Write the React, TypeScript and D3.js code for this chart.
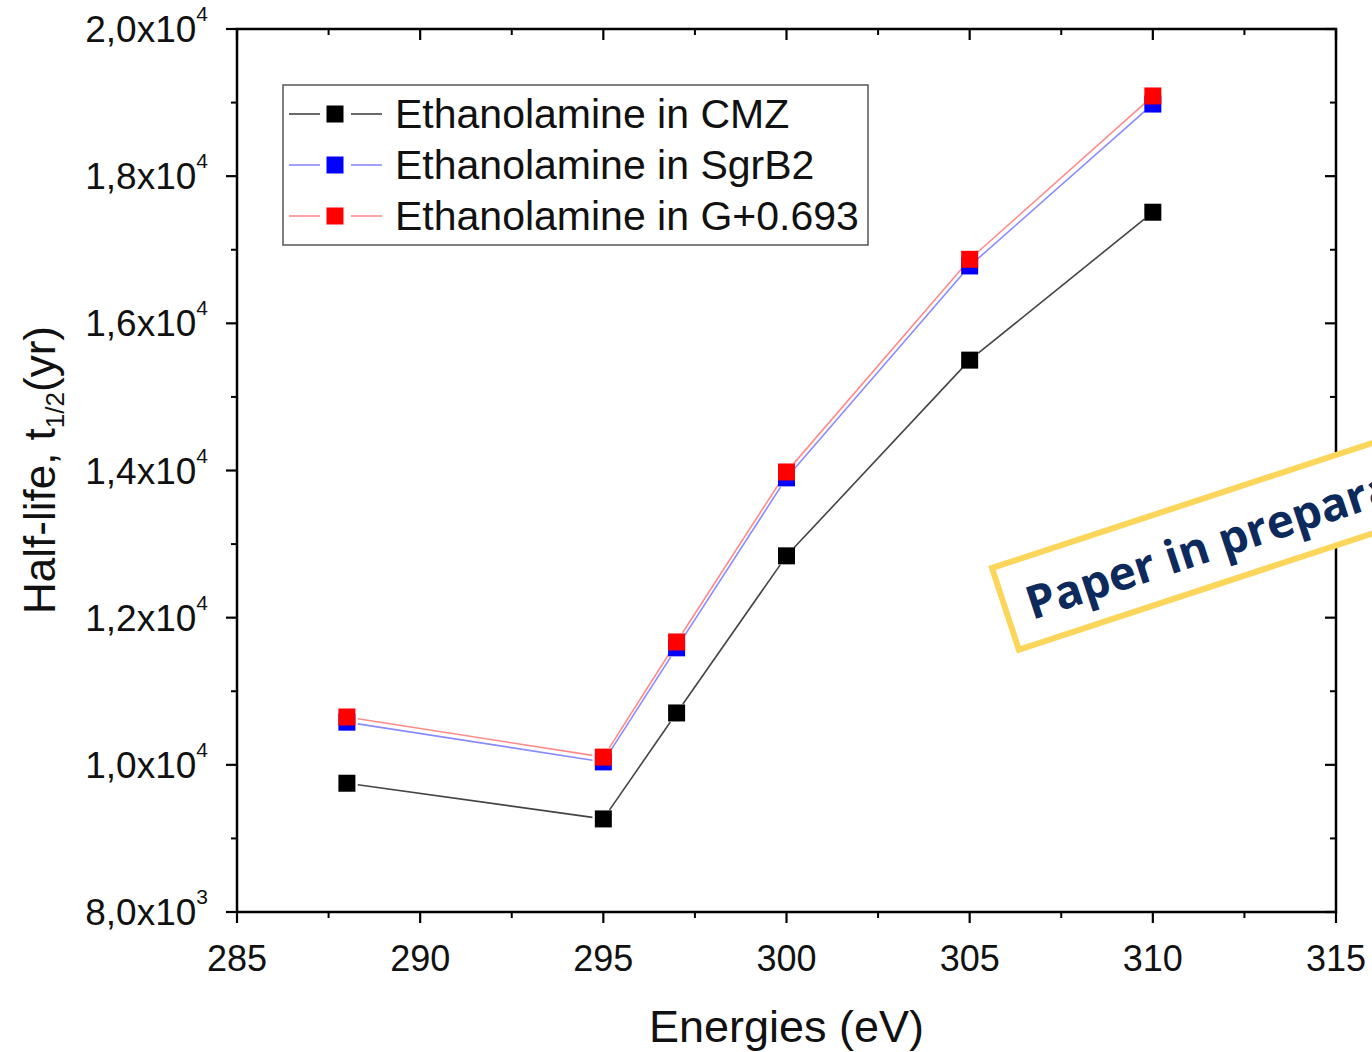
import React from "react";
import * as d3 from "d3";

const energies = [288, 295, 297, 300, 305, 310];
const cmz = [9750, 9265, 10705, 12840, 15500, 17510];
const sgrb2 = [10580, 10040, 11590, 13900, 16780, 18980];
const g0693 = [10650, 10105, 11670, 13980, 16870, 19090];

const seriesNames = ["Ethanolamine in CMZ", "Ethanolamine in SgrB2", "Ethanolamine in G+0.693"];
const xTicks = [285, 290, 295, 300, 305, 310, 315];
const yTicks = [8000, 10000, 12000, 14000, 16000, 18000, 20000];
const yTickLabels = [
  ["8,0x10", "3"],
  ["1,0x10", "4"],
  ["1,2x10", "4"],
  ["1,4x10", "4"],
  ["1,6x10", "4"],
  ["1,8x10", "4"],
  ["2,0x10", "4"],
];

const W = 1372;
const H = 1052;
const left = 237;
const right = 1336;
const top = 29;
const bottom = 912;

const FONT = "'Liberation Sans', Arial, sans-serif";

export default function App() {
  const x = d3.scaleLinear().domain([285, 315]).range([left, right]);
  const y = d3.scaleLinear().domain([8000, 20000]).range([bottom, top]);

  const series = [
    { name: seriesNames[0], values: cmz, line: "#444444", marker: "#000000" },
    { name: seriesNames[1], values: sgrb2, line: "#8a8aff", marker: "#0000ff" },
    { name: seriesNames[2], values: g0693, line: "#ff8a8a", marker: "#ff0000" },
  ];

  const xMinor = d3.range(285, 315.01, 2.5).filter((v) => !xTicks.includes(v));
  const yMinor = d3.range(8000, 20001, 1000).filter((v) => !yTicks.includes(v));

  const gap = 11;
  const ms = 17;

  // line segments between consecutive points, trimmed around each symbol
  const segments = (vals: number[]) => {
    const out: [number, number, number, number][] = [];
    for (let i = 0; i < vals.length - 1; i++) {
      const x1 = x(energies[i]);
      const y1 = y(vals[i]);
      const x2 = x(energies[i + 1]);
      const y2 = y(vals[i + 1]);
      const len = Math.hypot(x2 - x1, y2 - y1);
      const ux = (x2 - x1) / len;
      const uy = (y2 - y1) / len;
      out.push([x1 + ux * gap, y1 + uy * gap, x2 - ux * gap, y2 - uy * gap]);
    }
    return out;
  };

  const legendX = 283;
  const legendY = 85;
  const legendW = 585;
  const legendH = 160;
  const rowY = [114, 165, 216];

  const stampAngle = -18.2;

  return (
    <svg
      width={W}
      height={H}
      style={{ position: "absolute", left: 0, top: 0, background: "#fff" }}
    >
      <rect x={0} y={0} width={W} height={H} fill="#fff" />

      {/* data lines */}
      {series.map((s) => (
        <g key={s.name + "-line"}>
          {segments(s.values).map((sg, i) => (
            <line
              key={i}
              x1={sg[0]}
              y1={sg[1]}
              x2={sg[2]}
              y2={sg[3]}
              stroke={s.line}
              strokeWidth={1.6}
            />
          ))}
        </g>
      ))}
      {/* symbols */}
      {series.map((s) => (
        <g key={s.name + "-pts"}>
          {s.values.map((v, i) => (
            <rect
              key={i}
              x={x(energies[i]) - ms / 2}
              y={y(v) - ms / 2}
              width={ms}
              height={ms}
              fill={s.marker}
            />
          ))}
        </g>
      ))}

      {/* frame */}
      <rect
        x={left}
        y={top}
        width={right - left}
        height={bottom - top}
        fill="none"
        stroke="#000"
        strokeWidth={2.5}
      />

      {/* x ticks */}
      {xTicks.map((t) => (
        <g key={"xt" + t}>
          <line x1={x(t)} x2={x(t)} y1={bottom} y2={bottom + 11} stroke="#000" strokeWidth={2.2} />
          <line x1={x(t)} x2={x(t)} y1={top} y2={top + 11} stroke="#000" strokeWidth={2.2} />
          <text
            x={x(t)}
            y={bottom + 59}
            textAnchor="middle"
            fontFamily={FONT}
            fontSize={36}
            fill="#111"
          >
            {t}
          </text>
        </g>
      ))}
      {xMinor.map((t) => (
        <g key={"xm" + t}>
          <line x1={x(t)} x2={x(t)} y1={bottom} y2={bottom + 6} stroke="#000" strokeWidth={2} />
          <line x1={x(t)} x2={x(t)} y1={top} y2={top + 6} stroke="#000" strokeWidth={2} />
        </g>
      ))}

      {/* y ticks */}
      {yTicks.map((t, i) => (
        <g key={"yt" + t}>
          <line x1={left - 11} x2={left} y1={y(t)} y2={y(t)} stroke="#000" strokeWidth={2.2} />
          <line x1={right - 11} x2={right} y1={y(t)} y2={y(t)} stroke="#000" strokeWidth={2.2} />
          <text
            x={left - 29}
            y={y(t) + 13}
            textAnchor="end"
            fontFamily={FONT}
            fontSize={37}
            fill="#111"
          >
            {yTickLabels[i][0]}
            <tspan fontSize={21} dy={-21}>
              {yTickLabels[i][1]}
            </tspan>
          </text>
        </g>
      ))}
      {yMinor.map((t) => (
        <g key={"ym" + t}>
          <line x1={left - 6} x2={left} y1={y(t)} y2={y(t)} stroke="#000" strokeWidth={2} />
          <line x1={right - 6} x2={right} y1={y(t)} y2={y(t)} stroke="#000" strokeWidth={2} />
        </g>
      ))}

      {/* axis titles */}
      <text
        x={(left + right) / 2}
        y={1042}
        textAnchor="middle"
        fontFamily={FONT}
        fontSize={45}
        fill="#111"
      >
        Energies (eV)
      </text>
      <text
        transform={`translate(55, ${470}) rotate(-90)`}
        textAnchor="middle"
        fontFamily={FONT}
        fontSize={44}
        fill="#111"
      >
        Half-life, t
        <tspan fontSize={26} dy={9}>
          1/2
        </tspan>
        <tspan dy={-9}>(yr)</tspan>
      </text>

      {/* legend */}
      <rect
        x={legendX}
        y={legendY}
        width={legendW}
        height={legendH}
        fill="#fff"
        stroke="#555"
        strokeWidth={1.5}
      />
      {series.map((s, i) => (
        <g key={s.name + "-leg"}>
          <line x1={289} x2={320} y1={rowY[i]} y2={rowY[i]} stroke={s.line} strokeWidth={1.6} />
          <line x1={351} x2={382} y1={rowY[i]} y2={rowY[i]} stroke={s.line} strokeWidth={1.6} />
          <rect x={335 - ms / 2} y={rowY[i] - ms / 2} width={ms} height={ms} fill={s.marker} />
          <text
            x={395}
            y={rowY[i] + 14}
            fontFamily={FONT}
            fontSize={41}
            fill="#111"
          >
            {s.name}
          </text>
        </g>
      ))}

      {/* stamp */}
      <g transform={`translate(992, 568) rotate(${stampAngle})`}>
        <rect x={0} y={0} width={520} height={86} fill="#fff" stroke="#fbd65a" strokeWidth={6} />
        <text
          x={22}
          y={62}
          fontFamily="'Open Sans', 'Noto Sans', sans-serif"
          fontWeight={700}
          fontSize={46}
          fill="#0c2a5c"
        >
          Paper in preparation
        </text>
      </g>
    </svg>
  );
}
